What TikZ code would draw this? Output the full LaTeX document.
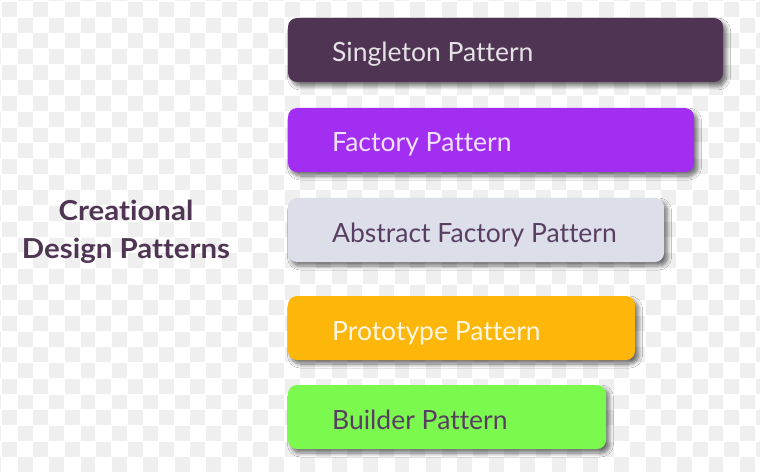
\documentclass[tikz,border=0pt]{standalone}
\usepackage{fontspec}
\setmainfont{Lato}[Ligatures=NoCommon]
\newfontfamily\headingfont{Lato}[Ligatures=NoCommon, FakeStretch=1.07]
\usetikzlibrary{shadows.blur}

\definecolor{plum}{HTML}{4F3553}
\definecolor{violet}{HTML}{A22EF2}
\definecolor{mist}{HTML}{DCDFEA}
\definecolor{amber}{HTML}{FDB70A}
\definecolor{lime}{HTML}{7CF94F}
\definecolor{checker}{HTML}{EFEFEF}
\definecolor{ink}{HTML}{5A3D63}

\tikzset{
  x=1pt, y=-1pt,
  patternbox/.style={
    rounded corners=9pt,
    blur shadow={shadow xshift=3.5pt, shadow yshift=-4pt,
                 shadow blur steps=8, shadow blur radius=4pt, shadow opacity=55}},
  boxlabel/.style={anchor=base west, font=\fontsize{26.5}{30}\selectfont, inner sep=0pt},
  title/.style={align=center, font=\headingfont\fontsize{27.5}{38}\selectfont\bfseries,
                text=plum, inner sep=0pt}
}

\begin{document}
\begin{tikzpicture}
  % canvas and transparency checkerboard
  \fill[white] (0,0) rectangle (760,473);
  \useasboundingbox (0,0) rectangle (760,473);
  \begin{scope}
    \clip (0,0) rectangle (760,473);
    \foreach \i in {-1,...,49} {
      \foreach \j in {-1,...,31} {
        \pgfmathparse{int(mod(\i+\j+100,2))}
        \ifnum\pgfmathresult=0
          \fill[checker] ({2+\i*15.7},{2+\j*15.7}) rectangle ++(14.9,14.9);
        \fi
      }
    }
  \end{scope}

  % pattern boxes
  \path[patternbox, fill=plum]   (288,18)  rectangle (723,82);
  \path[patternbox, fill=violet] (288,108) rectangle (694,172);
  \path[patternbox, fill=mist]   (288,198) rectangle (664,262);
  \path[patternbox, fill=amber]  (288,296) rectangle (635,360);
  \path[patternbox, fill=lime]   (288,385) rectangle (606,449);

  \node[boxlabel, text=white!86!plum] (singleton) at (332,62)  {Singleton Pattern};
  \node[boxlabel, text=white!86!violet] (factory) at (332,152) {Factory Pattern};
  \node[boxlabel, text=ink] (abstract) at (332,242) {Abstract Factory Pattern};
  \node[boxlabel, text=white!88!amber] (prototype) at (332,340) {Prototype Pattern};
  \node[boxlabel, text=ink] (builder) at (332,429) {Builder Pattern};

  % group heading
  \node[title] (heading) at (126,232) {Creational\\Design Patterns};
\end{tikzpicture}
\end{document}
